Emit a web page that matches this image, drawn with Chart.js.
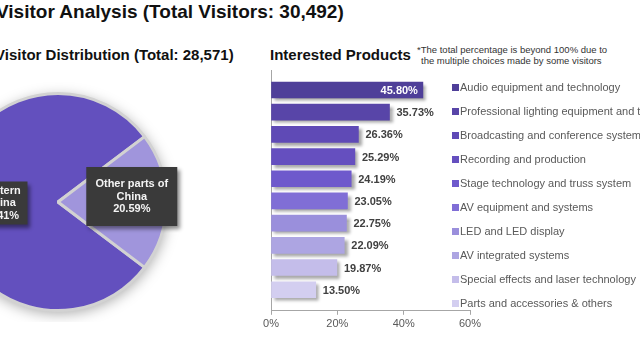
<!DOCTYPE html>
<html>
<head>
<meta charset="utf-8">
<script src="https://cdn.jsdelivr.net/npm/chart.js@4.4.1/dist/chart.umd.min.js"></script>
<style>
  html, body { margin: 0; padding: 0; }
  body {
    width: 640px; height: 340px; overflow: hidden; position: relative;
    background: #fff; font-family: "Liberation Sans", Arial, sans-serif;
  }
  .title {
    position: absolute; left: -4px; top: 1px; font-size: 19px; font-weight: bold;
    line-height: 22px; color: #111; white-space: nowrap;
  }
  .subtitle {
    position: absolute; top: 46px; font-size: 15px; font-weight: bold;
    line-height: 17px; color: #111; white-space: nowrap;
  }
  .note { position: absolute; font-size: 9.5px; line-height: 11px; color: #333; white-space: nowrap; }
  #pieCanvas { position: absolute; left: -72px; top: 82px; }
  #barCanvas { position: absolute; left: 240px; top: 60px; }
  #legend { position: absolute; left: 452px; top: 75px; }
  .legend-item {
    height: 24px; font-size: 11px; color: #595959; white-space: nowrap;
    display: flex; align-items: center;
  }
  .legend-item .box { width: 7px; height: 7px; margin-right: 1px; flex: none; }
</style>
</head>
<body>
<div class="title">Visitor Analysis (Total Visitors: 30,492)</div>
<div class="subtitle" style="left:-5px">Visitor Distribution (Total: 28,571)</div>
<div class="subtitle" style="left:270px">Interested Products</div>
<div class="note" style="left:417px; top:44px">*The total percentage is beyond 100% due to</div>
<div class="note" style="left:421px; top:55px">the multiple choices made by some visitors</div>

<canvas id="pieCanvas" width="260" height="240"></canvas>
<canvas id="barCanvas" width="260" height="280"></canvas>
<div id="legend"></div>

<script>
// Dados do gráfico de pizza (distribuição dos visitantes)
const regionLabels = ['Eastern China', 'Other parts of China'];
const regionShares = [79.41, 20.59];
const regionColors = ['#6350BE', '#A095DC'];

// Dados do gráfico de barras (produtos de interesse)
const productLabels = [
    'Audio equipment and technology',
    'Professional lighting equipment and technology',
    'Broadcasting and conference systems',
    'Recording and production',
    'Stage technology and truss system',
    'AV equipment and systems',
    'LED and LED display',
    'AV integrated systems',
    'Special effects and laser technology',
    'Parts and accessories & others'
];
const productShares = [45.80, 35.73, 26.36, 25.29, 24.19, 23.05, 22.75, 22.09, 19.87, 13.50];
const productColors = ['#4F3F99', '#5845A8', '#5F4AB6', '#654FBF', '#6E59CC',
                       '#806ED6', '#9A8FDC', '#ADA5E2', '#C4BDEA', '#D3CEF0'];
const xTicks = [0, 20, 40, 60];

const fontFamily = '"Liberation Sans", Arial, sans-serif';
Chart.defaults.font.family = fontFamily;

// Caixas escuras dos rótulos da pizza (estilo)
const pieBoxes = [
    { dist: 0.53, dy: 1, w: 54, h: 43 },
    { dist: 0.68, dy: -5.5, w: 91, h: 59 }
];

// Quebra o texto em linhas que cabem na largura
function wrapText(ctx, text, maxWidth) {
    const words = text.split(' ');
    const lines = [];
    let line = '';
    words.forEach(w => {
        const test = line ? line + ' ' + w : w;
        if (line && ctx.measureText(test).width > maxWidth) {
            lines.push(line);
            line = w;
        } else {
            line = test;
        }
    });
    if (line) lines.push(line);
    return lines;
}

// Sombra suave por baixo da pizza
const pieShadowPlugin = {
    id: 'pieShadow',
    beforeDatasetsDraw(chart) {
        const arc = chart.getDatasetMeta(0).data[0];
        if (!arc) return;
        const { x, y, outerRadius } = arc.getProps(['x', 'y', 'outerRadius'], true);
        const ctx = chart.ctx;
        ctx.save();
        ctx.shadowColor = 'rgba(0,0,0,0.35)';
        ctx.shadowBlur = 14;
        ctx.shadowOffsetX = 1;
        ctx.shadowOffsetY = 3;
        ctx.fillStyle = '#fff';
        ctx.beginPath();
        ctx.arc(x, y, outerRadius, 0, Math.PI * 2);
        ctx.fill();
        ctx.restore();
    }
};

// Rótulos em caixas escuras sobre as fatias
const pieLabelPlugin = {
    id: 'pieLabels',
    afterDatasetsDraw(chart) {
        const ctx = chart.ctx;
        chart.getDatasetMeta(0).data.forEach((arc, i) => {
            const { x, y, startAngle, endAngle, outerRadius } =
                arc.getProps(['x', 'y', 'startAngle', 'endAngle', 'outerRadius'], true);
            const mid = (startAngle + endAngle) / 2;
            const box = pieBoxes[i];
            const cx = x + Math.cos(mid) * outerRadius * box.dist;
            const cy = y + Math.sin(mid) * outerRadius * box.dist + box.dy;

            ctx.save();
            ctx.shadowColor = 'rgba(0,0,0,0.45)';
            ctx.shadowBlur = 4;
            ctx.shadowOffsetX = 3;
            ctx.shadowOffsetY = 3;
            ctx.fillStyle = '#3A3A3A';
            ctx.fillRect(cx - box.w / 2, cy - box.h / 2, box.w, box.h);
            ctx.restore();

            ctx.save();
            ctx.font = 'bold 11px ' + fontFamily;
            ctx.fillStyle = '#F4F4F4';
            ctx.textAlign = 'center';
            ctx.textBaseline = 'middle';
            const lines = wrapText(ctx, regionLabels[i], box.w - 14);
            lines.push(regionShares[i].toFixed(2) + '%');
            const lh = 12.5;
            lines.forEach((ln, k) => {
                ctx.fillText(ln, cx, cy + (k - (lines.length - 1) / 2) * lh);
            });
            ctx.restore();
        });
    }
};

new Chart(document.getElementById('pieCanvas'), {
    type: 'pie',
    data: {
        labels: regionLabels,
        datasets: [{
            data: regionShares,
            backgroundColor: regionColors,
            borderColor: '#D2D2D2',
            borderWidth: 3
        }]
    },
    options: {
        responsive: false,
        animation: false,
        // a fatia menor fica centrada à direita (3 horas)
        rotation: 90 + regionShares[1] * 1.8,
        layout: { padding: 10 },
        plugins: { legend: { display: false }, tooltip: { enabled: false } }
    },
    plugins: [pieShadowPlugin, pieLabelPlugin]
});

// Sombra das barras e rótulos de valor
const barDecorPlugin = {
    id: 'barDecor',
    beforeDatasetsDraw(chart) {
        const ctx = chart.ctx;
        ctx.save();
        ctx.shadowColor = 'rgba(0,0,0,0.35)';
        ctx.shadowBlur = 3;
        ctx.shadowOffsetX = 3;
        ctx.shadowOffsetY = 3;
    },
    afterDatasetsDraw(chart) {
        const ctx = chart.ctx;
        ctx.restore();
        chart.getDatasetMeta(0).data.forEach((bar, i) => {
            const value = productShares[i];
            const inside = value >= 40;
            ctx.save();
            ctx.font = 'bold 11px ' + fontFamily;
            ctx.textBaseline = 'middle';
            ctx.fillStyle = inside ? '#FFFFFF' : '#404040';
            ctx.textAlign = inside ? 'right' : 'left';
            ctx.fillText(value.toFixed(2) + '%', inside ? bar.x - 5 : bar.x + 7, bar.y + 1);
            ctx.restore();
        });
    }
};

new Chart(document.getElementById('barCanvas'), {
    type: 'bar',
    data: {
        datasets: [{
            data: productShares.map((v, i) => ({ x: v, y: i })),
            backgroundColor: productColors,
            borderWidth: 0,
            barThickness: 16
        }]
    },
    options: {
        indexAxis: 'y',
        responsive: false,
        animation: false,
        layout: { padding: { left: 31, top: 10, right: 30, bottom: 6 } },
        plugins: { legend: { display: false }, tooltip: { enabled: false } },
        scales: {
            x: {
                type: 'linear',
                min: 0,
                max: 60,
                afterBuildTicks: scale => { scale.ticks = xTicks.map(v => ({ value: v })); },
                ticks: {
                    callback: v => v + '%',
                    color: '#595959',
                    font: { size: 11 },
                    padding: 3,
                    maxRotation: 0
                },
                grid: { drawOnChartArea: false, drawTicks: true, tickLength: 4, color: '#A6A6A6' },
                border: { display: true, color: '#A6A6A6', dash: [4, 3], width: 1 }
            },
            y: {
                type: 'linear',
                reverse: true,
                offset: false,
                min: -0.9,
                max: 9.95,
                ticks: { display: false },
                grid: { display: false, drawTicks: false, offset: false },
                border: { display: true, color: '#A6A6A6', dash: [4, 3], width: 1 }
            }
        }
    },
    plugins: [barDecorPlugin]
});

// Legenda em HTML à direita das barras
const legendEl = document.getElementById('legend');
productLabels.forEach((label, i) => {
    const item = document.createElement('div');
    item.className = 'legend-item';
    const box = document.createElement('span');
    box.className = 'box';
    box.style.background = productColors[i];
    const text = document.createElement('span');
    text.textContent = label;
    item.appendChild(box);
    item.appendChild(text);
    legendEl.appendChild(item);
});
</script>
</body>
</html>
